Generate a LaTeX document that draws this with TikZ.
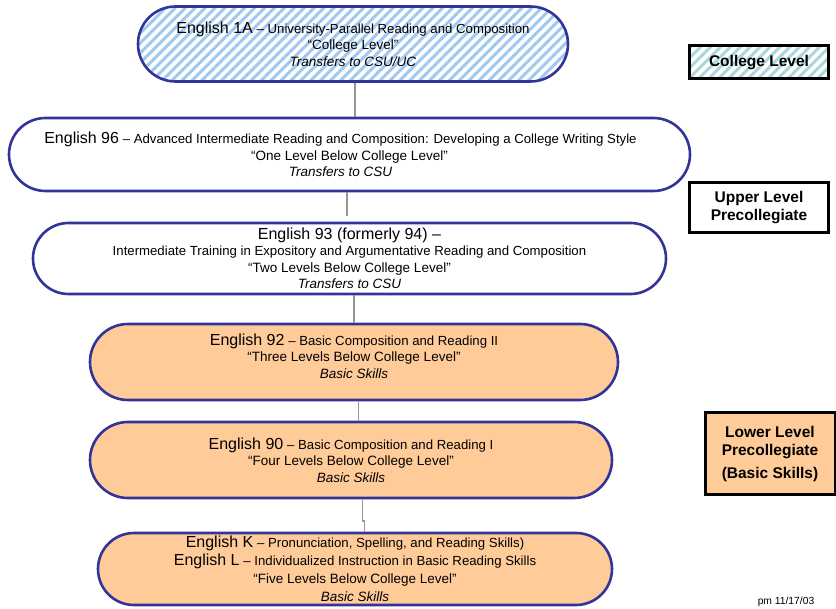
\documentclass[tikz,border=0pt]{standalone}
\usepackage{fontspec}
\setmainfont{Liberation Sans}
\usetikzlibrary{patterns.meta}
\definecolor{bord}{RGB}{51,51,153}
\definecolor{peach}{RGB}{255,204,153}
\definecolor{stripeA}{RGB}{160,200,240}
\definecolor{stripeB}{RGB}{170,215,220}
\definecolor{conn}{RGB}{150,150,150}
\newcommand\Ttl[1]{{\fontsize{16}{17}\selectfont #1}}
\newcommand\Sub[1]{{\fontsize{13.2}{17}\selectfont #1}}
\newcommand\Lft{\hspace*{18pt}}
\tikzset{
  course/.style={draw=bord, line width=2.6pt, rectangle, align=center, inner sep=0pt,
     font=\fontsize{13.5}{16.5}\selectfont},
  striped/.style={preaction={fill=white}, pattern={Lines[angle=45,distance=7pt,line width=3pt]}, pattern color=#1},
  levelbox/.style={draw=black, line width=3pt, rectangle, align=center, inner sep=0pt,
     font=\fontsize{15.5}{18}\selectfont\bfseries},
  link/.style={draw=conn, line width=1.5pt}
}
\begin{document}
\begin{tikzpicture}[x=1pt,y=-1pt]
\useasboundingbox[fill=white] (0,0) rectangle (836,609);
\node[course, striped=stripeA, minimum width=430pt, minimum height=75pt, rounded corners=37.5pt] (b1) at (353,44)
  {\Ttl{English 1A} \Sub{– University-Parallel Reading and Composition}\\“College Level”\\\textit{Transfers to CSU/UC}};
\node[course, fill=white, minimum width=681pt, minimum height=73pt, rounded corners=36.5pt] (b2) at (349.5,154.5)
  {\Ttl{English 96} \Sub{– Advanced Intermediate Reading and Composition: Developing a College Writing Style}\Lft\\“One Level Below College Level”\Lft\\\textit{Transfers to CSU}\Lft};
\node[course, fill=white, minimum width=633pt, minimum height=71pt, rounded corners=35.5pt] (b3) at (349.5,258.5)
  {\Ttl{English 93 (formerly 94) –}\\\Sub{Intermediate Training in Expository and Argumentative Reading and Composition}\\“Two Levels Below College Level”\\\textit{Transfers to CSU}};
\node[course, fill=peach, minimum width=528pt, minimum height=76pt, rounded corners=38pt] (b4) at (354,362)
  {\Ttl{English 92} \Sub{– Basic Composition and Reading II}\\“Three Levels Below College Level”\\\textit{Basic Skills}\\[-4pt]};
\node[course, fill=peach, minimum width=522pt, minimum height=76pt, rounded corners=38pt] (b5) at (351,460)
  {\Ttl{English 90} \Sub{– Basic Composition and Reading I}\\“Four Levels Below College Level”\\\textit{Basic Skills}};
\node[course, fill=peach, minimum width=514pt, minimum height=72pt, rounded corners=36pt, font=\fontsize{13.5}{18}\selectfont] (b6) at (355,569)
  {\Ttl{English K} \Sub{– Pronunciation, Spelling, and Reading Skills)}\\\Ttl{English L} \Sub{– Individualized Instruction in Basic Reading Skills}\\“Five Levels Below College Level”\\\textit{Basic Skills}};
% level labels
\node[levelbox, striped=stripeB, minimum width=139pt, minimum height=33pt] (l1) at (759,62.5) {College Level};
\node[levelbox, fill=white, minimum width=139pt, minimum height=50pt] (l2) at (759,208) {Upper Level\\Precollegiate};
\node[levelbox, fill=peach, minimum width=130pt, minimum height=82pt] (l3) at (770,454) {Lower Level\\Precollegiate\\[5pt](Basic Skills)};
\node[font=\fontsize{10.3}{12}\selectfont] (pm) at (786,602) {pm 11/17/03};
% connectors
\coordinate (c1) at (355,0);
\coordinate (c2) at (347,0);
\coordinate (c3) at (354,0);
\coordinate (c4) at (358.7,0);
\coordinate (c5) at (362.3,0);
\coordinate (c6) at (364.7,0);
\coordinate (j1) at (362.3,521);
\coordinate (j2) at (364.7,521);
\draw[link] (b1.south -| c1) -- (b2.north -| c1);
\draw[link] (b2.south -| c2) -- ++(0,24);
\draw[link] (b3.south -| c3) -- (b4.north -| c3);
\draw[link] (b4.south -| c4) -- (b5.north -| c4);
\draw[link, line width=1.2pt] (b5.south -| c5) -- (j1) -- (j2) -- (b6.north -| c6);
\end{tikzpicture}
\end{document}
